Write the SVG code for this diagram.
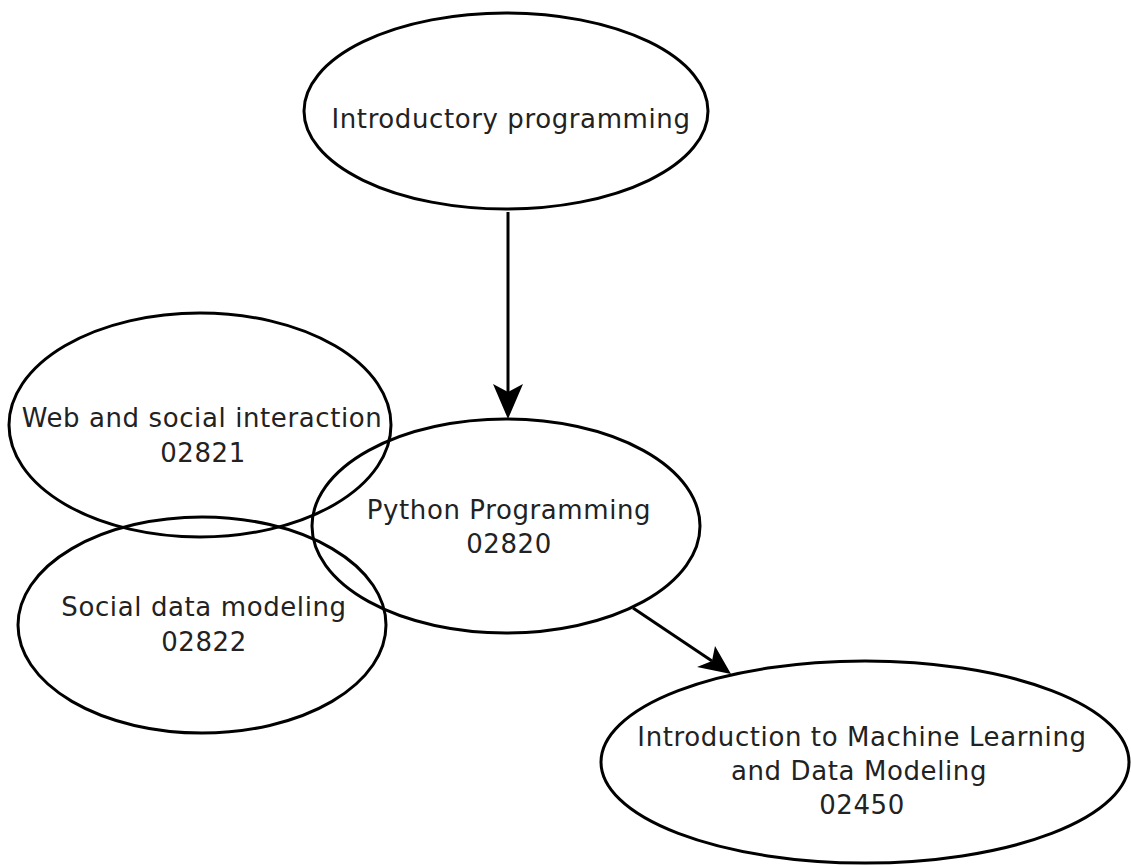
<svg xmlns="http://www.w3.org/2000/svg" width="1131" height="866" viewBox="0 0 1131 866">
<style>
.n{fill:none;stroke:#000;stroke-width:3}
.t{font-family:"DejaVu Sans",sans-serif;font-size:26px;letter-spacing:0.6px;fill:#222;text-anchor:middle}
.c{stroke:#000;stroke-width:3;fill:none}
</style>
<rect width="1131" height="866" fill="#fff"/>
<g id="connectors">
<path class="c" d="M508,212 L508,395"/>
<path d="M508,419 L493,384 L508,392 L523,384 Z" fill="#000"/>
<path class="c" d="M633,608 L712,661"/>
<path d="M731,674 L697,667 L712,661 L715,646 Z" fill="#000"/>
</g>
<g id="intro">
<ellipse class="n" cx="506" cy="111" rx="202" ry="98"/>
<text class="t" x="511" y="128">Introductory programming</text>
</g>
<g id="web">
<ellipse class="n" cx="200" cy="425" rx="191" ry="112"/>
<text class="t" x="202" y="427">Web and social interaction</text>
<text class="t" x="203" y="462">02821</text>
</g>
<g id="python">
<ellipse class="n" cx="506" cy="526" rx="194" ry="107"/>
<text class="t" x="509" y="519">Python Programming</text>
<text class="t" x="509" y="553">02820</text>
</g>
<g id="social">
<ellipse class="n" cx="202" cy="625" rx="184" ry="108"/>
<text class="t" x="204" y="616">Social data modeling</text>
<text class="t" x="204" y="651">02822</text>
</g>
<g id="ml">
<ellipse class="n" cx="865" cy="762" rx="264" ry="101"/>
<text class="t" x="862" y="746">Introduction to Machine Learning</text>
<text class="t" x="859" y="780">and Data Modeling</text>
<text class="t" x="862" y="814">02450</text>
</g>
</svg>
